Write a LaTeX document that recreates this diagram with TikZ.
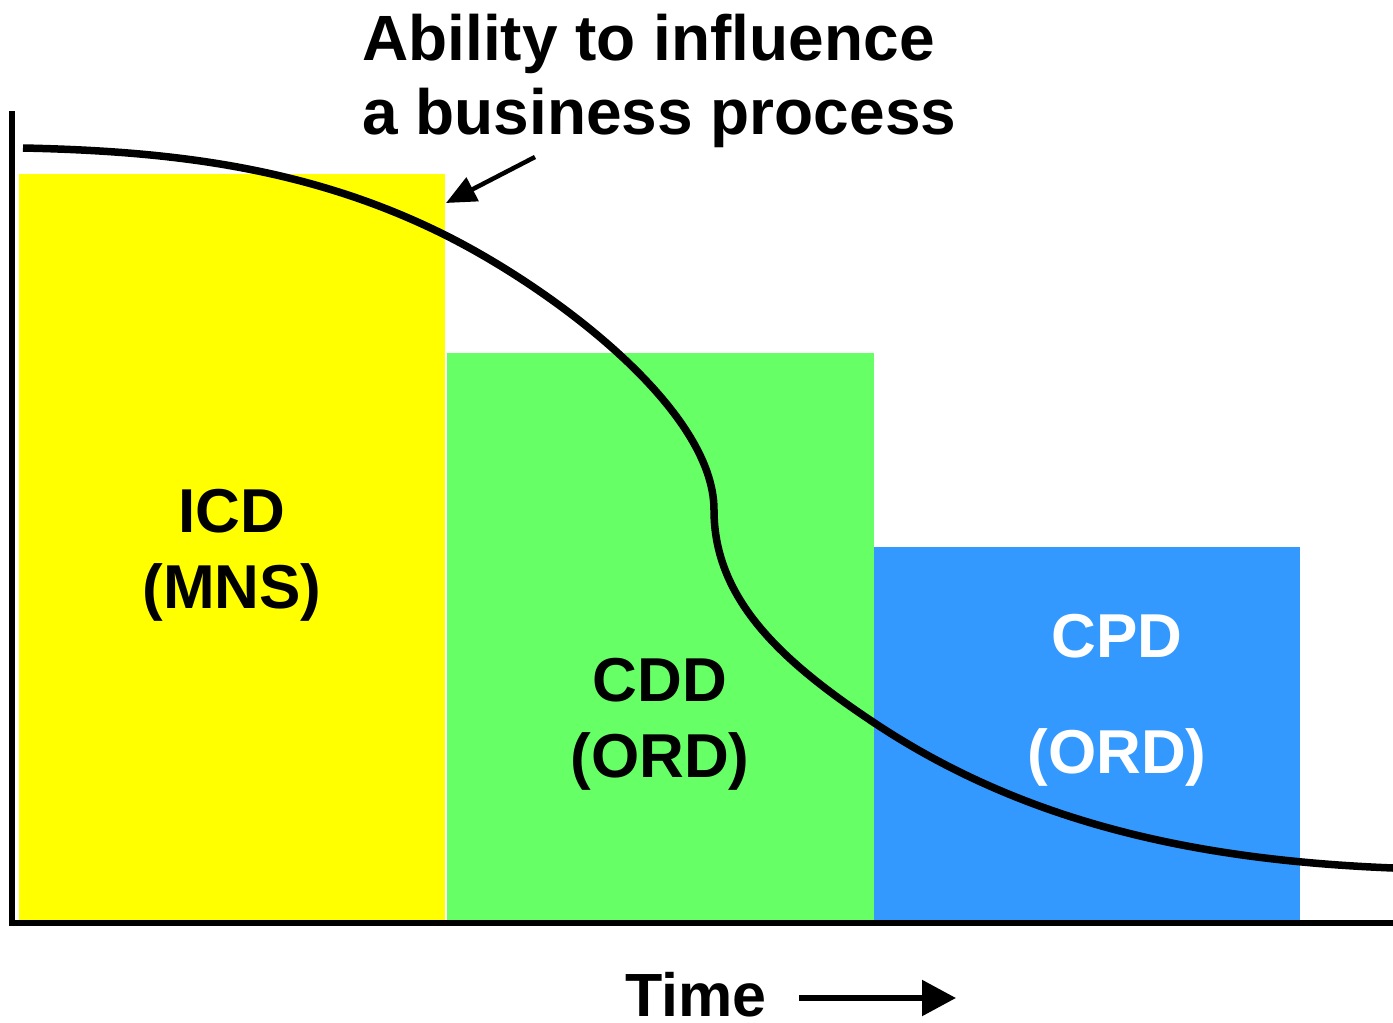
\documentclass[tikz,border=0pt]{standalone}
\usepackage{fontspec}
\setmainfont{Liberation Sans}
\usetikzlibrary{arrows.meta}
\definecolor{icdyellow}{HTML}{FFFF00}
\definecolor{cddgreen}{HTML}{66FF66}
\definecolor{cpdblue}{HTML}{3399FF}

\begin{document}
\begin{tikzpicture}[x=1pt,y=-1pt]
   \tikzset{PhaseLabel/.style={font=\fontsize{62}{76}\selectfont\bfseries, align=center, anchor=base, inner sep=0pt}}
   \tikzset{BigText/.style={font=\fontsize{64}{74}\selectfont\bfseries, inner sep=0pt}}
   \useasboundingbox (0,0) rectangle (1393,1023);
   % phases
   \fill[icdyellow] (19,174) rectangle (445,920);
   \fill[cddgreen] (447,353) rectangle (874,920);
   \fill[cpdblue] (874,547) rectangle (1300,920);
   \node[PhaseLabel] (ICD) at (232,608) {ICD\\(MNS)};
   \node[PhaseLabel] (CDD) at (660,777) {CDD\\(ORD)};
   \node[PhaseLabel, text=white, font=\fontsize{62}{116}\selectfont\bfseries] (CPD) at (1117,773) {CPD\\(ORD)};
   % axes
   \draw[line width=6pt, line join=miter] (12,111) -- (12,923) -- (1393,923);
   % ability curve
   \draw[line width=7.5pt] (23,148) .. controls (163,151) and (305,165) .. (445,235)
      .. controls (555,290) and (714,410) .. (714,510)
      .. controls (714,600) and (783,662) .. (873,722)
      .. controls (1023,822) and (1193,860) .. (1393,868);
   \node[BigText, align=left, anchor=base west] (Ability) at (362,134) {Ability to influence\\a business process};
   \coordinate (CallFrom) at (535,157);
   \coordinate (CallTo) at (446,203);
   \draw[-{Triangle[length=30pt,width=26pt]}, line width=4.5pt] (CallFrom) -- (CallTo);
   % time axis label
   \node[BigText, font=\fontsize{61}{72}\selectfont\bfseries, text depth=0pt, anchor=base west] (Time) at (625,1016) {Time};
   \coordinate (TimeFrom) at (799,998);
   \coordinate (TimeTo) at (956,998);
   \draw[-{Triangle[length=34pt,width=35pt]}, line width=5.5pt] (TimeFrom) -- (TimeTo);
\end{tikzpicture}
\end{document}
